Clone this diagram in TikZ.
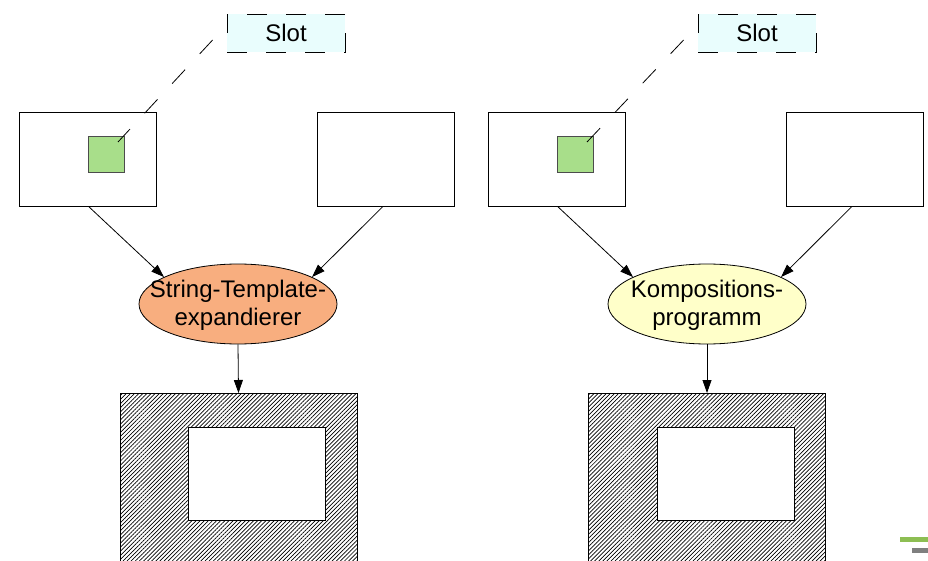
\documentclass[tikz,border=0pt]{standalone}
\usepackage{fontspec}
\setmainfont{Liberation Sans}
\usetikzlibrary{shapes.geometric,arrows.meta,patterns.meta}
\definecolor{slotfill}{HTML}{E9FDFD}
\definecolor{slotgreen}{HTML}{A8DE8A}
\definecolor{expfill}{HTML}{F8AE7F}
\definecolor{compfill}{HTML}{FFFFC9}
\definecolor{barGreen}{HTML}{8DBE53}
\definecolor{barGray}{HTML}{7F7F7F}
\begin{document}
\begin{tikzpicture}[x=1pt,y=-1pt,
  box/.style={draw, line width=0.8pt, fill=white, minimum width=137pt,
    minimum height=94pt, inner sep=0pt},
  slotbox/.style={draw, dash pattern=on 20pt off 19pt, fill=slotfill,
    line width=0.8pt, minimum width=118pt, minimum height=38pt, inner sep=0pt,
    font=\fontsize{24}{28}\selectfont},
  slotsq/.style={draw=black!70, line width=0.8pt, fill=slotgreen,
    minimum size=36pt, inner sep=0pt},
  slotlink/.style={line width=0.8pt, dash pattern=on 19pt off 21.5pt},
  proc/.style={ellipse, draw, line width=0.8pt, minimum width=198pt,
    minimum height=80pt, inner sep=0pt},
  proclabel/.style={align=center, inner sep=0pt,
    font=\fontsize{24}{28}\selectfont},
  outbox/.style={draw, line width=0.8pt,
    pattern={Lines[angle=45,distance=2.9pt,line width=0.7pt]},
    minimum width=237pt, minimum height=180pt, inner sep=0pt},
  hole/.style={draw, line width=0.8pt, fill=white, minimum width=137pt,
    minimum height=93pt, inner sep=0pt},
  flow/.style={line width=0.8pt, -{Triangle[length=13pt,width=9pt]}}
]
\clip (0,0) rectangle (928,561);
\fill[white] (0,0) rectangle (928,561);

% ---------- string template expansion ----------
\node[box] (aL) at (87.5,159) {};
\node[box] (bL) at (385.5,159) {};
\node[slotsq] (gL) at (106,154) {};
\node[slotbox] (sL) at (286,33) {Slot};
\draw[slotlink] ([xshift=-14pt,yshift=-7pt]sL.west) -- ([xshift=12pt,yshift=12pt]gL.center);
\node[proc, fill=expfill] (eL) at (238,304) {};
\node[proclabel] (tL) at (238,305) {String-Template-\\expandierer};
\node[outbox, anchor=north] (oL) at (238.5,393) {};
\node[hole] (hL) at (256.5,473.5) {};
\draw[flow] ([xshift=1pt]aL.south) -- (eL.160);
\draw[flow] ([xshift=-2.5pt]bL.south) -- (eL.20);
\draw[flow] (eL.south) -- (oL.north);

% ---------- composition program ----------
\begin{scope}[xshift=469pt]
\node[box] (aR) at (87.5,159) {};
\node[box] (bR) at (385.5,159) {};
\node[slotsq] (gR) at (106,154) {};
\node[slotbox] (sR) at (288,33) {Slot};
\draw[slotlink] ([xshift=-14pt,yshift=-7pt]sR.west) -- ([xshift=12pt,yshift=12pt]gR.center);
\node[proc, fill=compfill] (eR) at (238,304) {};
\node[proclabel] (tR) at (238,305) {Kompositions-\\programm};
\node[outbox, anchor=north] (oR) at (238,393) {};
\node[hole] (hR) at (256.5,473.5) {};
\draw[flow] ([xshift=1pt]aR.south) -- (eR.160);
\draw[flow] ([xshift=-2.5pt]bR.south) -- (eR.20);
\draw[flow] (eR.south) -- (oR.north);
\end{scope}

% ---------- corner bars ----------
\fill[barGreen] (900,537) rectangle (928,541.5);
\fill[barGray] (912,548) rectangle (928,552.5);
\end{tikzpicture}
\end{document}
